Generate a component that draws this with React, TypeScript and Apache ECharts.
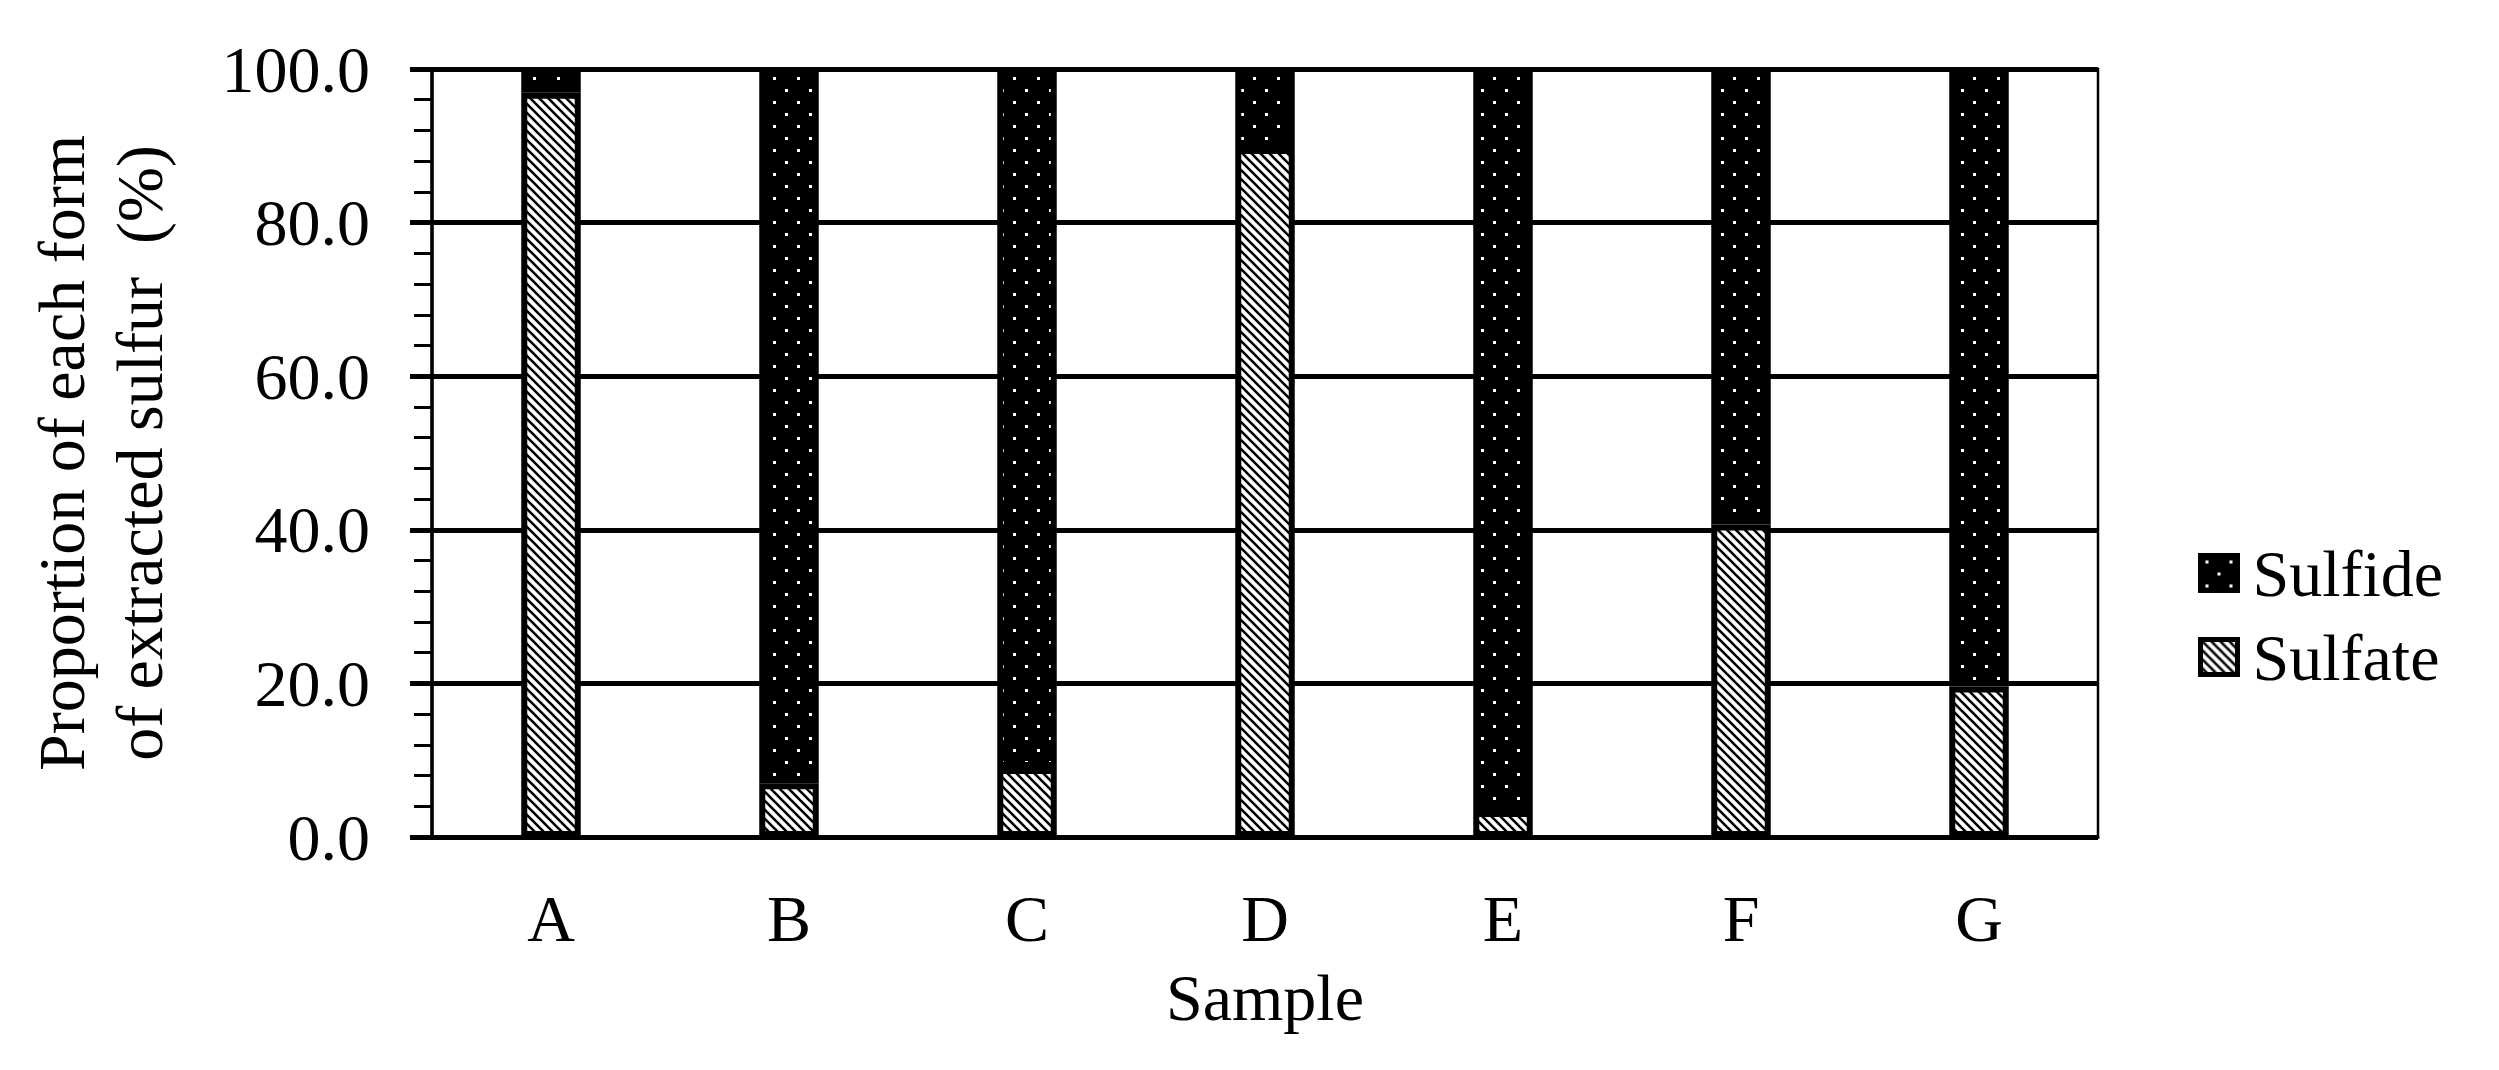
import React, { useEffect, useRef } from 'react';
import * as echarts from 'echarts';

const categories = ['A', 'B', 'C', 'D', 'E', 'F', 'G'];
const sulfateValues = [96.9, 7.0, 9.0, 89.7, 3.4, 40.7, 19.6];
const sulfideValues = [3.1, 93.0, 91.0, 10.3, 96.6, 59.3, 80.4];
const legendNames = ['Sulfide', 'Sulfate'];
const yMin = 0;
const yMax = 100;
const yInterval = 20;
const yAxisTitle = 'Proportion of each form\nof extracted sulfur  (%)';
const xAxisTitle = 'Sample';

const FONT = '"Liberation Serif", "Times New Roman", serif';

function makeHatch(): HTMLCanvasElement {
  const s = 9;
  const c = document.createElement('canvas');
  c.width = s;
  c.height = s;
  const ctx = c.getContext('2d')!;
  ctx.fillStyle = '#ffffff';
  ctx.fillRect(0, 0, s, s);
  ctx.strokeStyle = '#000000';
  ctx.lineWidth = 2.6;
  for (const off of [-s, 0, s]) {
    ctx.beginPath();
    ctx.moveTo(off - 1, -1);
    ctx.lineTo(off + s + 1, s + 1);
    ctx.stroke();
  }
  return c;
}

function makeDots(): HTMLCanvasElement {
  const s = 24;
  const c = document.createElement('canvas');
  c.width = s;
  c.height = s;
  const ctx = c.getContext('2d')!;
  ctx.fillStyle = '#000000';
  ctx.fillRect(0, 0, s, s);
  ctx.fillStyle = '#ffffff';
  ctx.fillRect(5, 5, 3, 3);
  ctx.fillRect(17, 17, 3, 3);
  return c;
}

export default function App() {
  const ref = useRef<HTMLDivElement>(null);

  useEffect(() => {
    document.body.style.margin = '0';
    if (!ref.current) return;
    const chart = echarts.init(ref.current, undefined, { renderer: 'svg' });
    const hatch = makeHatch();
    const dots = makeDots();

    const option: any = {
      animation: false,
      backgroundColor: '#ffffff',
      textStyle: { fontFamily: FONT, color: '#000' },
      grid: {
        left: 432,
        right: 401,
        top: 69,
        bottom: 233,
        show: true,
        borderColor: '#000',
        borderWidth: 2.5,
        backgroundColor: 'transparent',
      },
      legend: {
        data: legendNames,
        orient: 'vertical',
        left: 2193,
        top: 535,
        icon: 'rect',
        itemWidth: 37,
        itemHeight: 35,
        itemGap: 18,
        itemStyle: { borderColor: '#000', borderWidth: 5 },
        textStyle: { fontSize: 66, fontFamily: FONT, color: '#000', padding: [0, 0, 0, 10] },
      },
      xAxis: {
        type: 'category',
        data: categories,
        name: xAxisTitle,
        nameLocation: 'middle',
        nameGap: 127,
        nameTextStyle: { fontSize: 66, fontFamily: FONT, color: '#000' },
        axisLine: { show: true, lineStyle: { color: '#000', width: 3 } },
        axisTick: { show: false },
        axisLabel: { fontSize: 66, fontFamily: FONT, color: '#000', margin: 48 },
        splitLine: { show: false },
      },
      yAxis: {
        type: 'value',
        min: yMin,
        max: yMax,
        interval: yInterval,
        name: yAxisTitle,
        nameLocation: 'middle',
        nameRotate: 90,
        nameGap: 254,
        nameTextStyle: { fontSize: 66, fontFamily: FONT, color: '#000', lineHeight: 78 },
        axisLine: { show: true, lineStyle: { color: '#000', width: 3.5 } },
        axisTick: { show: true, inside: false, length: 22, lineStyle: { color: '#000', width: 5 } },
        minorTick: { show: true, splitNumber: 5, length: 18, lineStyle: { color: '#000', width: 3 } },
        splitLine: { show: true, lineStyle: { color: '#000', width: 5 } },
        axisLabel: {
          fontSize: 66,
          fontFamily: FONT,
          color: '#000',
          margin: 62,
          formatter: (v: number) => v.toFixed(1),
        },
      },
      series: [
        {
          name: 'Sulfate',
          type: 'bar',
          stack: 'total',
          data: sulfateValues,
          barWidth: '25%',
          itemStyle: {
            color: { image: hatch, repeat: 'repeat' },
            borderColor: '#000',
            borderWidth: 6,
          },
        },
        {
          name: 'Sulfide',
          type: 'bar',
          stack: 'total',
          data: sulfideValues,
          barWidth: '25%',
          itemStyle: {
            color: { image: dots, repeat: 'repeat' },
            borderColor: '#000',
            borderWidth: 6,
          },
        },
      ],
    };
    chart.setOption(option);
    return () => {
      chart.dispose();
    };
  }, []);

  return (
    <div
      ref={ref}
      style={{ position: 'absolute', left: 0, top: 0, width: 2499, height: 1070, background: '#fff' }}
    />
  );
}
